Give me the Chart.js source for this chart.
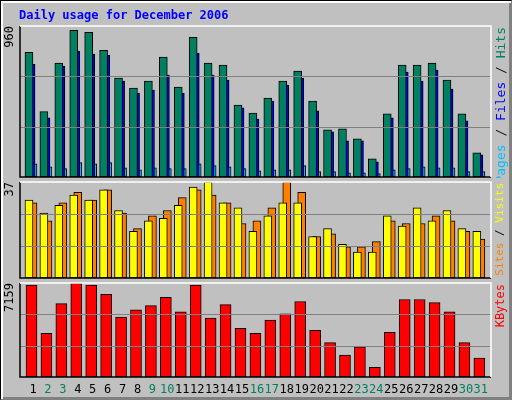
<!DOCTYPE html>
<html>
<head>
<meta charset="utf-8">
<script src="https://cdn.jsdelivr.net/npm/chart.js@4/dist/chart.umd.min.js"></script>
<style>
  body { margin: 0; background: #fff; }
  #frame { position: relative; width: 510px; height: 398px; background: #c0c0c0;
           border: 1px solid #000; border-right-color: #808080; border-bottom-color: #808080;
           box-shadow: inset 2px 2px 0 #fff, inset -2px -2px 0 #808080; }
  canvas { position: absolute; left: -1px; }
</style>
</head>
<body>
<div id="frame">
  <canvas id="c1" width="512" height="178" style="top:-1px"></canvas>
  <canvas id="c2" width="512" height="100" style="top:178px"></canvas>
  <canvas id="c3" width="512" height="121" style="top:279px"></canvas>
</div>
<script>
var days = [];
for (var d = 1; d <= 31; d++) days.push(d);
var weekend = [2, 3, 9, 10, 16, 17, 23, 24, 30, 31];

var hits   = [793,416,724,933,920,806,629,565,610,762,572,888,724,711,458,407,502,610,673,483,300,306,243,116,401,711,711,724,616,401,154];
var files  = [717,376,705,800,781,774,610,534,553,648,534,787,648,616,439,369,483,584,629,420,287,230,230,97,376,667,610,679,559,357,141];
var pages  = [84,65,53,91,84,91,59,46,59,53,53,84,72,65,53,40,46,46,72,34,34,27,27,21,46,53,65,59,59,34,34];
var sites  = [30,25,28,32,30,34,26,18,22,23,28,35,37,29,27,18,24,29,29,16,19,13,10,10,24,20,27,22,26,19,18];
var visits = [29,22,29,33,30,34,25,19,24,26,31,34,32,29,21,22,27,37,33,16,17,12,12,14,22,21,21,24,22,18,15];
var kbytes = [7003,3319,5592,7159,7003,6297,4573,5121,5435,6062,4965,7003,4494,5513,3710,3319,4338,4808,5749,3554,2613,1672,2299,732,3397,5905,5905,5670,4965,2613,1437];

var FONT = '"DejaVu Sans Mono", monospace';

function pts(arr, off) {
  return arr.map(function (v, i) { return { x: days[i] + off, y: v }; });
}

var decoPlugin = {
  id: 'deco',
  afterDraw: function (chart) {
    var o = chart.options.plugins.deco, ctx = chart.ctx, a = chart.chartArea, y = chart.scales.y;
    ctx.save();
    ctx.strokeStyle = '#808080'; ctx.lineWidth = 1;
    [1, 2].forEach(function (k) {
      var py = Math.round(y.getPixelForValue(o.max * k / 3)) + 0.5;
      ctx.beginPath(); ctx.moveTo(a.left, py); ctx.lineTo(a.right, py); ctx.stroke();
    });
    ctx.lineWidth = 1.5;
    ctx.strokeStyle = '#000';
    ctx.beginPath(); ctx.moveTo(a.left, a.top); ctx.lineTo(a.left, a.bottom); ctx.lineTo(a.right, a.bottom); ctx.stroke();
    ctx.strokeStyle = '#fff';
    ctx.beginPath(); ctx.moveTo(a.left, a.top); ctx.lineTo(a.right, a.top); ctx.lineTo(a.right, a.bottom); ctx.stroke();
    ctx.font = '12px ' + FONT;
    ctx.save();
    ctx.translate(a.left - 4, a.top);
    ctx.rotate(-Math.PI / 2);
    ctx.textAlign = 'right'; ctx.textBaseline = 'bottom'; ctx.fillStyle = '#000';
    ctx.fillText(String(o.max), 0, 0);
    ctx.restore();
    ctx.font = o.fs + 'px ' + FONT;
    ctx.save();
    ctx.translate(a.right + 4, a.top + 1);
    ctx.rotate(-Math.PI / 2);
    ctx.textAlign = 'left'; ctx.textBaseline = 'top';
    var total = 0;
    o.legend.forEach(function (p) { total += ctx.measureText(p[0]).width; });
    var x = -total;
    o.legend.forEach(function (p) {
      ctx.fillStyle = p[1]; ctx.fillText(p[0], x, 0); x += ctx.measureText(p[0]).width;
    });
    ctx.restore();
    if (o.title) {
      ctx.font = 'bold 12px ' + FONT; ctx.fillStyle = '#0000ff';
      ctx.textAlign = 'left'; ctx.textBaseline = 'alphabetic';
      ctx.fillText('Daily usage for December 2006', 19, 19);
    }
    if (o.xlabels) {
      ctx.font = '12px ' + FONT; ctx.textAlign = 'center'; ctx.textBaseline = 'middle';
      days.forEach(function (d) {
        ctx.fillStyle = weekend.indexOf(d) >= 0 ? '#008060' : '#000';
        ctx.fillText(String(d), chart.scales.x.getPixelForValue(d), a.bottom + 13);
      });
    }
    ctx.restore();
  }
};

function bar(label, data, off, color, w) {
  return { label: label, data: pts(data, off), backgroundColor: color, borderColor: '#000',
           borderWidth: 1, barThickness: w, grouped: false, borderSkipped: false };
}

function make(id, datasets, max, pad, deco) {
  deco.max = max;
  return new Chart(document.getElementById(id), {
    type: 'bar',
    data: { datasets: datasets },
    plugins: [decoPlugin],
    options: {
      responsive: false, animation: false,
      layout: { padding: pad },
      scales: {
        x: { type: 'linear', min: 0.13, max: 31.68, offset: false, display: false },
        y: { min: 0, max: max, display: false }
      },
      plugins: { legend: { display: false }, tooltip: { enabled: false }, deco: deco }
    }
  });
}

make('c1', [
  bar('Hits', hits, -0.27, '#008060', 8),
  bar('Files', files, -0.13, '#0000ff', 8),
  bar('Pages', pages, 0, '#00c0ff', 8)
], 960, { left: 20, right: 21, top: 26, bottom: 1 },
  { title: true, fs: 13, legend: [['Pages', '#00c0ff'], [' / ', '#000'], ['Files', '#0000ff'], [' / ', '#000'], ['Hits', '#008060']] });

make('c2', [
  bar('Sites', sites, -0.27, '#ffff00', 8),
  bar('Visits', visits, 0, '#ff8000', 8)
], 37, { left: 20, right: 21, top: 3, bottom: 1 },
  { fs: 11, legend: [['Sites', '#ff8000'], [' / ', '#000'], ['Visits', '#ffff00']] });

make('c3', [
  bar('KBytes', kbytes, -0.1, '#ff0000', 11)
], 7159, { left: 20, right: 21, top: 3, bottom: 24 },
  { xlabels: true, fs: 12, legend: [['KBytes', '#ff0000']] });
</script>
</body>
</html>
